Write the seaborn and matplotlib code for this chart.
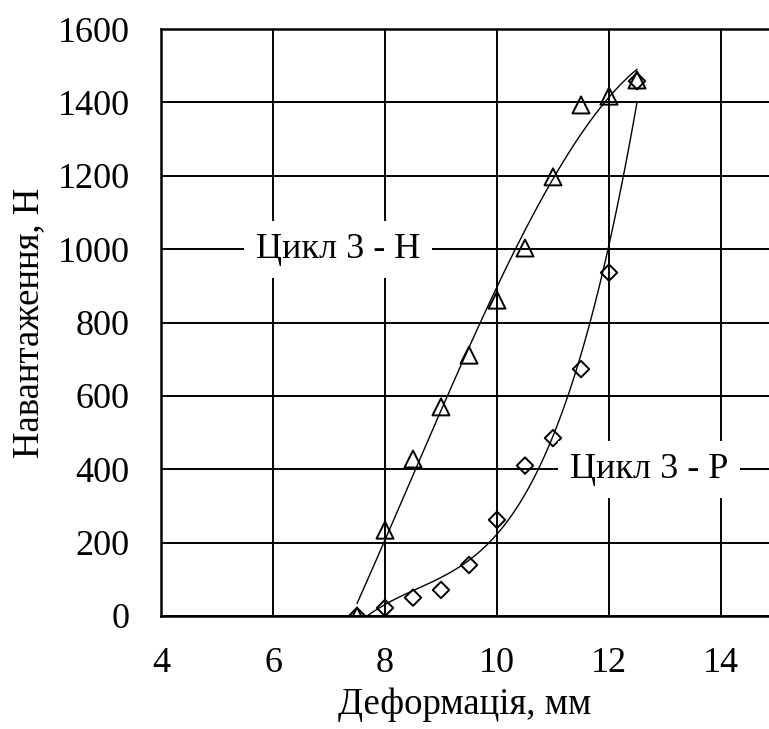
import numpy as np
import pandas as pd
import matplotlib
matplotlib.use("Agg")
import matplotlib.pyplot as plt
import seaborn as sns

# Data
deformation = [7.5, 8.0, 8.5, 9.0, 9.5, 10.0, 10.5, 11.0, 11.5, 12.0, 12.5]
load_h = [0, 234, 428, 570, 711, 861, 1003, 1197, 1393, 1417, 1461]
load_p = [0, 22, 50, 71, 139, 262, 410, 485, 673, 936, 1458]
x_ticks = [4, 6, 8, 10, 12, 14]
y_ticks = [0, 200, 400, 600, 800, 1000, 1200, 1400, 1600]
label_h = "Цикл 3 - Н"
label_p = "Цикл 3 - Р"
x_label = "Деформація, мм"
y_label = "Навантаження, Н"

sns.set_style("white")
plt.rcParams['font.family'] = ['Liberation Serif', 'DejaVu Serif']
plt.rcParams.update({'text.color': 'black', 'axes.labelcolor': 'black',
                     'xtick.color': 'black', 'ytick.color': 'black'})

df_h = pd.DataFrame({"x": deformation, "y": load_h})
df_p = pd.DataFrame({"x": deformation, "y": load_p})

fig = plt.figure(figsize=(7.69, 7.29), dpi=100)
ax = fig.add_axes([161/769, 113/729, 608/769, 587/729])

ax.set_xlim(4, 4 + 608/56)
ax.set_ylim(0, 1600)
ax.set_xticks(x_ticks)
ax.set_yticks(y_ticks)
ax.grid(True, color="black", linewidth=1.4, zorder=0)
ax.set_axisbelow(True)

for sp in ["left", "bottom", "top"]:
    ax.spines[sp].set_visible(True)
    ax.spines[sp].set_color("black")
    ax.spines[sp].set_linewidth(1.8)
ax.spines["right"].set_visible(False)

sns.regplot(data=df_h, x="x", y="y", order=3, ci=None, scatter=False, ax=ax,
            line_kws=dict(color="black", linewidth=1.0, zorder=3))
sns.regplot(data=df_p, x="x", y="y", order=3, ci=None, scatter=False, ax=ax,
            line_kws=dict(color="black", linewidth=1.0, zorder=3))

sns.scatterplot(data=df_h, x="x", y="y", marker="^", s=150, facecolor="none",
                edgecolor="black", linewidth=1.4, ax=ax, zorder=4)
sns.scatterplot(data=df_p, x="x", y="y", marker="D", s=70, facecolor="none",
                edgecolor="black", linewidth=1.4, ax=ax, zorder=4)

bbox = dict(facecolor="white", edgecolor="none", boxstyle="square,pad=0.33")
ax.text(7.16, 1000, label_h, fontsize=26, color="black", ha="center", va="center",
        bbox=bbox, zorder=5)
ax.text(12.72, 400, label_p, fontsize=26, color="black", ha="center", va="center",
        bbox=bbox, zorder=5)

ax.tick_params(axis="both", length=0, labelsize=26, pad=22.5, labelcolor="black")
ax.set_xlabel(x_label, fontsize=26.5, labelpad=5, color="black")
ax.set_ylabel(y_label, fontsize=26.5, labelpad=8, color="black")

fig.savefig("out.png", dpi=100)
